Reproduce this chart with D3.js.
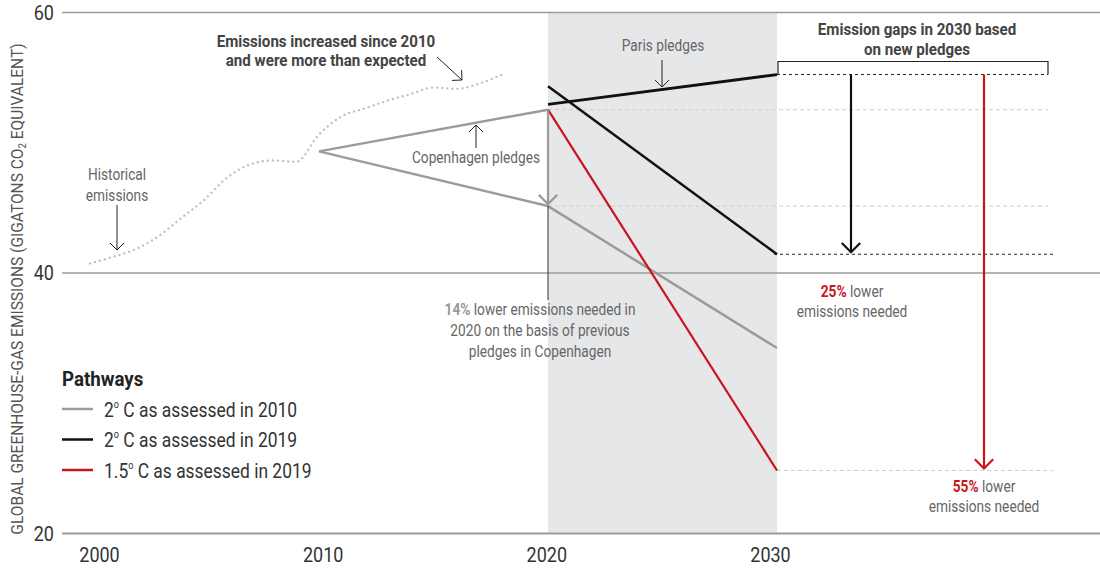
<!DOCTYPE html>
<html>
<head>
<meta charset="utf-8">
<script src="https://cdn.jsdelivr.net/npm/d3@7"></script>
<style>
  body { margin: 0; background: #fff; }
  text { font-family: Roboto, "DejaVu Sans Condensed", sans-serif; }
</style>
</head>
<body>
<svg id="chart" width="1100" height="568"></svg>
<script>
// ---- data -------------------------------------------------------------
const histYears  = [2000, 2001, 2002, 2003, 2004, 2005, 2006, 2007, 2008, 2009,
                    2010, 2011, 2012, 2013, 2014, 2015, 2016, 2017, 2018];
const histValues = [40.7, 41.2, 41.8, 42.8, 44.2, 45.6, 47.3, 48.3, 48.6, 48.5,
                    50.6, 52.0, 52.6, 53.2, 53.7, 54.2, 54.1, 54.5, 55.2];

// Copenhagen pledges (2010 -> 2020) and the 2 °C path assessed in 2010
const copenYears   = [2010, 2020];
const copenValues  = [49.3, 52.5];
const path2010Years  = [2010, 2020, 2030];
const path2010Values = [49.3, 45.1, 34.2];

// Paris pledges and the 2019 pathways
const pathYears     = [2020, 2030];
const parisValues   = [52.9, 55.2];
const path2019_2C   = [54.3, 41.4];
const path2019_15C  = [52.5, 24.8];

const xTicks = [2000, 2010, 2020, 2030];
const yTicks = [20, 40, 60];

const legendLabels = [["2", "o", " C as assessed in 2010"],
                      ["2", "o", " C as assessed in 2019"],
                      ["1.5", "o", " C as assessed in 2019"]];
const legendColors = ["#9b9b9b", "#111111", "#c8141e"];

const GREY = "#9b9b9b", BLACK = "#111111", RED = "#c8141e";
// horizontal squeeze giving a condensed face
const NARROW = 0.83, NARROW_BOLD = 0.89, NARROW_TICK = 0.9;

// ---- scales -----------------------------------------------------------
const svg = d3.select("#chart");
const x = d3.scaleLinear().domain([2000, 2030]).range([90, 777]);
const y = d3.scaleLinear().domain([20, 60]).range([533, 12]);
const line = d3.line().x(d => x(d[0])).y(d => y(d[1]));
const zip = (a, b) => a.map((v, i) => [v, b[i]]);

// shaded pledge period
svg.append("rect")
  .attr("x", x(2020)).attr("y", y(60))
  .attr("width", x(2030) - x(2020)).attr("height", y(20) - y(60))
  .attr("fill", "#e6e7e9");

// ---- axes -------------------------------------------------------------
const yAxis = svg.append("g").attr("transform", "translate(62,0)")
  .call(d3.axisLeft(y).tickValues(yTicks).tickSize(-1038).tickPadding(9));
yAxis.select(".domain").remove();
yAxis.selectAll(".tick line")
  .attr("stroke", GREY)
  .attr("stroke-width", d => d === 20 ? 2 : 1.5);
yAxis.selectAll(".tick text")
  .attr("font-size", 20).attr("fill", "#333").attr("dy", "0.36em")
  .attr("transform", `scale(${NARROW_TICK},1)`);

// tick labels sit slightly inward of their ticks
const tickLabelX = d3.scaleLinear().domain([2000, 2030]).range([99, 770]);
const xAxis = svg.append("g").attr("transform", `translate(0,${y(20)})`)
  .call(d3.axisBottom(x).tickValues(xTicks).tickFormat(d3.format("d")).tickSize(0).tickPadding(0));
xAxis.select(".domain").remove();
xAxis.selectAll(".tick text")
  .attr("font-size", 20).attr("fill", "#333").attr("y", 29).attr("dy", 0)
  .attr("transform", d => `translate(${tickLabelX(d) - x(d)},0) scale(${NARROW_TICK},1)`);

const yTitle = svg.append("text")
  .attr("transform", "translate(23,289) rotate(-90) scale(0.97,1)")
  .attr("text-anchor", "middle").attr("font-size", 16).attr("fill", "#555");
yTitle.append("tspan").text("GLOBAL GREENHOUSE-GAS EMISSIONS (GIGATONS CO");
yTitle.append("tspan").attr("font-size", 10).attr("dy", 3).text("2");
yTitle.append("tspan").attr("dy", -3).text(" EQUIVALENT)");

// ---- reference dashes -------------------------------------------------
const gapRight = 1048;
const dash = (x1, x2, v, color, pattern) => svg.append("line")
  .attr("x1", x1).attr("x2", x2).attr("y1", y(v)).attr("y2", y(v))
  .attr("stroke", color).attr("stroke-width", 1).attr("stroke-dasharray", pattern);
dash(x(2020), gapRight, copenValues[1], "#cfcfcf", "4,3");
dash(x(2020), gapRight, path2010Values[1], "#cfcfcf", "4,3");
dash(x(2030), gapRight + 5, path2019_15C[1], "#cfcfcf", "4,3");
dash(x(2030), gapRight, parisValues[1], "#222", "3,3");
dash(x(2030) - 3, gapRight + 7, path2019_2C[1], "#222", "3,3");

// ---- historical emissions (dotted) ------------------------------------
svg.append("path")
  .datum(zip(histYears, histValues))
  .attr("d", line.curve(d3.curveMonotoneX))
  .attr("fill", "none").attr("stroke", "#c2c2c2")
  .attr("stroke-width", 2.4).attr("stroke-linecap", "round")
  .attr("stroke-dasharray", "0.1,5");
line.curve(d3.curveLinear);

// ---- pathways ---------------------------------------------------------
const drawPath = (data, color, w) => svg.append("path").datum(data)
  .attr("d", line).attr("fill", "none").attr("stroke", color)
  .attr("stroke-width", w).attr("stroke-linejoin", "round");
drawPath(zip(copenYears, copenValues), GREY, 2.5);
drawPath(zip(path2010Years, path2010Values), GREY, 2.5);
drawPath(zip(pathYears, parisValues), BLACK, 2.8);
drawPath(zip(pathYears, path2019_2C), BLACK, 2.5);
drawPath(zip(pathYears, path2019_15C), RED, 2.2);

// ---- arrows -----------------------------------------------------------
function arrow(x1, y1, x2, y2, color, w, head) {
  const g = svg.append("g").attr("fill", "none").attr("stroke", color).attr("stroke-width", w);
  g.append("line").attr("x1", x1).attr("y1", y1).attr("x2", x2).attr("y2", y2);
  const a = Math.atan2(y2 - y1, x2 - x1);
  const p = t => [x2 - head * Math.cos(a + t), y2 - head * Math.sin(a + t)];
  const l = p(Math.PI / 4), r = p(-Math.PI / 4);
  g.append("path").attr("d", `M${l[0]},${l[1]}L${x2},${y2}L${r[0]},${r[1]}`);
}

// Copenhagen gap at 2020
svg.append("line")
  .attr("x1", x(2020)).attr("x2", x(2020))
  .attr("y1", y(path2010Values[1])).attr("y2", 300)
  .attr("stroke", "#333").attr("stroke-width", 1);
arrow(x(2020), y(copenValues[1]), x(2020), y(path2010Values[1]) - 2, GREY, 2.2, 13);

// 2030 gaps
const gapBlackX = x(2030) + 74, gapRedX = x(2030) + 207;
svg.append("path")
  .attr("d", `M${x(2030) + 1},${y(parisValues[1])}V${y(parisValues[1]) - 13}H${gapRight}V${y(parisValues[1])}`)
  .attr("fill", "none").attr("stroke", "#222").attr("stroke-width", 1.2);
arrow(gapBlackX, y(parisValues[1]), gapBlackX, y(path2019_2C[1]) - 2, BLACK, 2.2, 13);
arrow(gapRedX, y(parisValues[1]), gapRedX, y(path2019_15C[1]) - 2, RED, 2.2, 13);

// annotation pointers
arrow(437, 57, 462, 80, "#222", 1, 10);
arrow(117, 205, 117, 250, "#222", 1, 10);
arrow(476, 148, 476, 125, "#222", 1, 10);
arrow(662, 60, 662, 87, "#222", 1, 10);

// ---- annotation text --------------------------------------------------
function label(xp, yp, parts, opts = {}) {
  const allBold = parts.every(p => p[2]);
  const k = allBold ? NARROW_BOLD : NARROW;
  const t = svg.append("text")
    .attr("transform", `translate(${xp},${yp}) scale(${k},1)`)
    .attr("text-anchor", opts.anchor || "middle")
    .attr("font-size", opts.size || (allBold ? 17 : 16.5));
  parts.forEach(([s, color, bold]) => t.append("tspan")
    .attr("fill", color).attr("font-weight", bold ? "bold" : "normal").text(s));
  return t;
}
label(326, 47, [["Emissions increased since 2010", "#444", true]]);
label(326, 66, [["and were more than expected", "#444", true]]);
label(117, 180, [["Historical", "#666"]]);
label(117, 201, [["emissions", "#666"]]);
label(476, 163, [["Copenhagen pledges", "#666"]]);
label(663, 51, [["Paris pledges", "#666"]]);
label(917, 35, [["Emission gaps in 2030 based", "#444", true]]);
label(917, 55, [["on new pledges", "#444", true]]);

label(540, 315, [["14%", "#999", true], [" lower emissions needed in", "#666"]]);
label(540, 336, [["2020 on the basis of previous", "#666"]]);
label(540, 357, [["pledges in Copenhagen", "#666"]]);

label(852, 297, [["25%", RED, true], [" lower", "#666"]]);
label(852, 317, [["emissions needed", "#666"]]);
label(984, 492, [["55%", RED, true], [" lower", "#666"]]);
label(984, 512, [["emissions needed", "#666"]]);

// ---- legend -----------------------------------------------------------
label(62, 386, [["Pathways", "#222", true]], { anchor: "start", size: 21 });
const legend = svg.append("g").selectAll("g").data(legendLabels).join("g")
  .attr("transform", (d, i) => `translate(62,${409 + i * 30.5})`);
legend.append("line").attr("x1", 0).attr("x2", 31)
  .attr("stroke", (d, i) => legendColors[i]).attr("stroke-width", 2.5);
const lt = legend.append("text")
  .attr("transform", `translate(42,7.5) scale(${NARROW},1)`)
  .attr("font-size", 21).attr("fill", "#333");
lt.append("tspan").text(d => d[0]);
lt.append("tspan").attr("font-size", 11).attr("dy", -9).text(d => d[1]);
lt.append("tspan").attr("dy", 9).text(d => d[2]);
</script>
</body>
</html>
